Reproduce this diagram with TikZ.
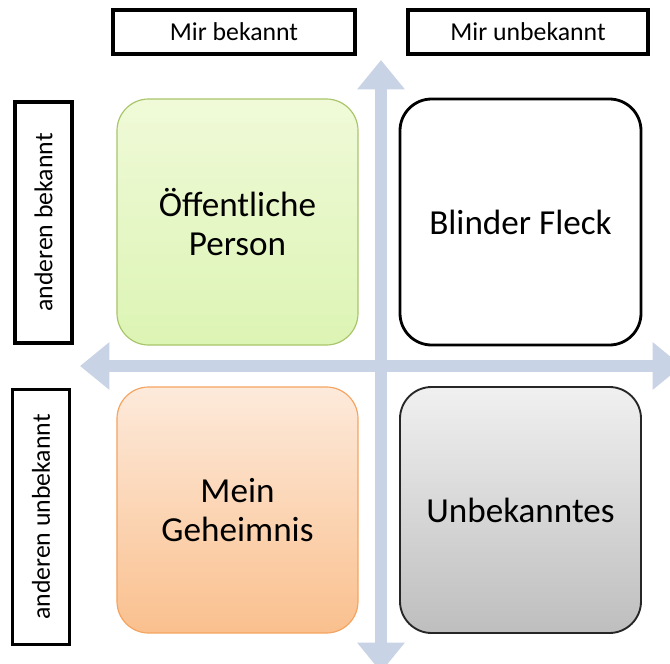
\documentclass[tikz,border=0pt]{standalone}
\usepackage{fontspec}
\setmainfont{Carlito}
\usetikzlibrary{arrows.meta}
\definecolor{axis-blue}{HTML}{C9D3E6}
\definecolor{green-top}{HTML}{F0FAD8}
\definecolor{green-bot}{HTML}{DCF4B4}
\definecolor{green-line}{HTML}{A9C56A}
\definecolor{orange-top}{HTML}{FDEADB}
\definecolor{orange-bot}{HTML}{FAC08E}
\definecolor{orange-line}{HTML}{F4A460}
\definecolor{grey-top}{HTML}{F0F0F0}
\definecolor{grey-bot}{HTML}{BEBEBE}

\begin{document}
\begin{tikzpicture}[x=0.03cm, y=-0.03cm,
      every node/.style={font=\fontsize{22}{26}\selectfont},
      labelbox/.style={draw=black, line width=2.8pt, fill=white, inner sep=0pt},
      quadbox/.style={rounded corners=0.95cm, minimum width=7.23cm, minimum height=7.38cm,
        align=center, inner sep=0pt, font=\fontsize{30}{34}\selectfont},
      axis/.style={draw=axis-blue, line width=10.2pt,
        {Triangle[width=39pt,length=25pt]}-{Triangle[width=39pt,length=25pt]}}]
    \useasboundingbox (0,0) rectangle (670,663);
    % ---- Axes
    \coordinate (up)    at (381,60);
    \coordinate (down)  at (381,672);
    \coordinate (left)  at (80,366);
    \coordinate (right) at (682,366);
    \draw[axis] (down) -- (up);
    \draw[axis] (left) -- (right);
    % ---- Column and row labels
    \node[labelbox, minimum width=7.26cm, minimum height=1.32cm] (mir-bek)   at (234,32) {Mir bekannt};
    \node[labelbox, minimum width=7.2cm,  minimum height=1.32cm] (mir-unbek) at (528,32) {Mir unbekannt};
    \node[labelbox, rotate=90, minimum width=7.23cm, minimum height=1.71cm] (and-bek)   at (43.5,222.5) {anderen bekannt};
    \node[labelbox, rotate=90, minimum width=7.65cm, minimum height=1.71cm] (and-unbek) at (41,517) {anderen  unbekannt};
    % ---- Quadrants
    \node[quadbox, draw=green-line, line width=1pt, top color=green-top, bottom color=green-bot]
      (open) at (237.5,222) {Öffentliche\\Person};
    \node[quadbox, draw=black, line width=2.4pt, fill=white]
      (blind) at (520.5,222) {Blinder Fleck};
    \node[quadbox, draw=orange-line, line width=1pt, top color=orange-top, bottom color=orange-bot]
      (secret) at (237.5,510) {Mein\\Geheimnis};
    \node[quadbox, draw=black!85, line width=1.6pt, top color=grey-top, bottom color=grey-bot]
      (unknown) at (520.5,510) {Unbekanntes};
  \end{tikzpicture}
\end{document}
